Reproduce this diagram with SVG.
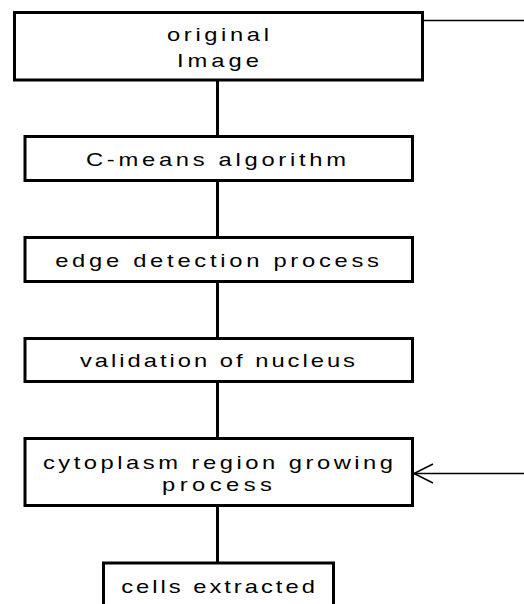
<svg xmlns="http://www.w3.org/2000/svg" width="524" height="604" viewBox="0 0 524 604">
<style>
.box{fill:#fff;stroke:#000;stroke-width:3}
.t{font-family:"Liberation Sans",Arial,sans-serif;font-size:19px;fill:#000;text-anchor:middle}
.c{stroke:#000;stroke-width:3;fill:none}
.thin{stroke:#000;stroke-width:1.5;fill:none}
</style>
<rect width="524" height="604" fill="#fff"/>
<g id="connectors">
<line class="c" x1="217.5" y1="80" x2="217.5" y2="137"/>
<line class="c" x1="217.5" y1="180" x2="217.5" y2="238"/>
<line class="c" x1="217.5" y1="281" x2="217.5" y2="339"/>
<line class="c" x1="217.5" y1="381" x2="217.5" y2="439"/>
<line class="c" x1="217.5" y1="505" x2="217.5" y2="564"/>
<line class="thin" x1="412" y1="20.5" x2="524" y2="20.5"/>
<line class="thin" x1="524" y1="473.5" x2="414" y2="473.5"/>
<polyline class="thin" points="433,464 414,473.5 433,483"/>
</g>
<g id="n1"><rect class="box" x="14.5" y="12.5" width="408" height="67.5"/>
<text class="t" transform="translate(218,41) scale(1.25,1)" textLength="81.6" lengthAdjust="spacing">original</text>
<text class="t" transform="translate(218,67) scale(1.25,1)" textLength="65.6" lengthAdjust="spacing">Image</text></g>
<g id="n2"><rect class="box" x="25" y="136.5" width="387.5" height="44"/>
<text class="t" transform="translate(216,165.5) scale(1.25,1)" textLength="208" lengthAdjust="spacing">C-means algorithm</text></g>
<g id="n3"><rect class="box" x="25" y="237.5" width="387.5" height="44"/>
<text class="t" transform="translate(217,266.5) scale(1.25,1)" textLength="259" lengthAdjust="spacing">edge detection process</text></g>
<g id="n4"><rect class="box" x="25" y="338.5" width="387.5" height="43"/>
<text class="t" transform="translate(217.5,366.5) scale(1.25,1)" textLength="220" lengthAdjust="spacing">validation of nucleus</text></g>
<g id="n5"><rect class="box" x="25" y="438.5" width="387.5" height="67"/>
<text class="t" transform="translate(218,468.5) scale(1.25,1)" textLength="280" lengthAdjust="spacing">cytoplasm region growing</text>
<text class="t" transform="translate(217,490.5) scale(1.25,1)" textLength="88" lengthAdjust="spacing">process</text></g>
<g id="n6"><rect class="box" x="103.5" y="563" width="230" height="60"/>
<text class="t" transform="translate(218,592.5) scale(1.25,1)" textLength="155" lengthAdjust="spacing">cells extracted</text></g>
</svg>
